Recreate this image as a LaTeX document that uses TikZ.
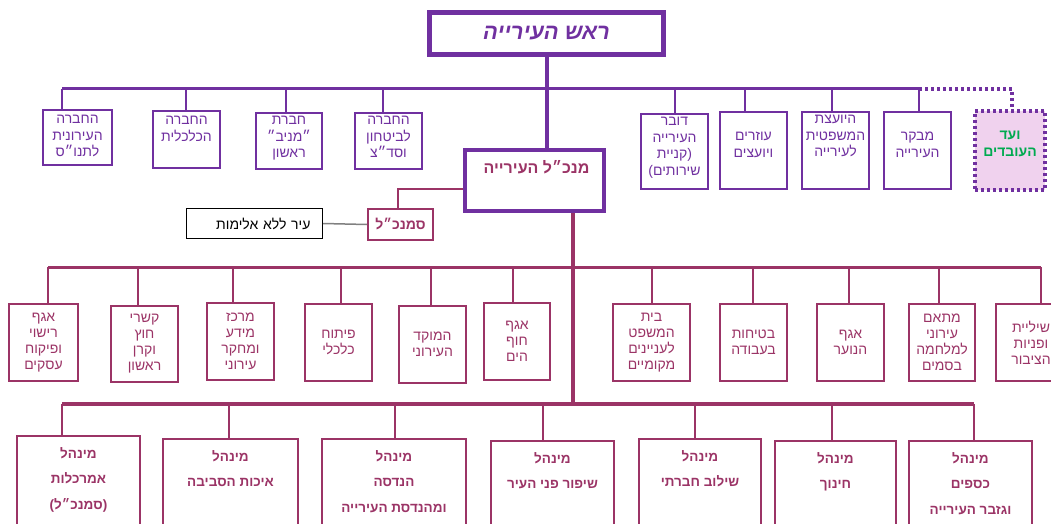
\documentclass[tikz,border=0pt]{standalone}
\usepackage{fontspec}
\newfontfamily\hebfont[Script=Hebrew]{Liberation Sans}
\TeXXeTstate=1
\usetikzlibrary{positioning}
\definecolor{mayorpurple}{RGB}{112,48,160}
\definecolor{unitred}{RGB}{155,52,102}
\definecolor{vaadgreen}{RGB}{0,170,80}
\definecolor{vaadpink}{RGB}{240,210,238}
\newcommand{\rl}[1]{\beginR #1\endR}

\tikzset{
    upbox/.style={draw=mayorpurple, line width=2pt, anchor=north west, inner sep=0pt},
    uptext/.style={font=\hebfont\fontsize{14}{16.5}\selectfont, text=mayorpurple, align=center, inner sep=0pt},
    midbox/.style={draw=unitred, line width=2pt, anchor=north west, inner sep=0pt, minimum height=77pt,
        font=\hebfont\fontsize{14}{16}\selectfont, text=unitred, align=center},
    lowbox/.style={draw=unitred, line width=2pt, anchor=north west, inner sep=0pt, minimum height=120pt},
    lowtext/.style={font=\hebfont\bfseries\fontsize{13.5}{25.5}\selectfont, text=unitred, align=center, inner sep=0pt},
    uplink/.style={draw=mayorpurple, line width=2pt},
    lowlink/.style={draw=unitred, line width=2pt},
    vaadline/.style={draw=mayorpurple, line width=4pt, dash pattern=on 3pt off 3pt}
}

\begin{document}
\begin{tikzpicture}[x=1pt, y=-1pt]
    \useasboundingbox (0,0) rectangle (1051,524);

    % mayor and the units under him
    \node[draw=mayorpurple, line width=5pt, anchor=north west, minimum width=234pt, minimum height=42pt, inner sep=0pt,
        font=\hebfont\bfseries\itshape\fontsize{22}{24}\selectfont, text=mayorpurple] (mayor) at (427,10) {\rl{ראש העירייה}};

    \node[upbox, minimum width=69pt, minimum height=55pt] (tennis) at (42,109) {};
    \node[uptext, below=6pt of tennis.north] (tennisT) {\rl{החברה}\\\rl{העירונית}\\\rl{לתנו״ס}};
    \node[upbox, minimum width=67pt, minimum height=57pt] (kalkalit) at (152,110) {};
    \node[uptext, below=6pt of kalkalit.north] (kalkalitT) {\rl{החברה}\\\rl{הכלכלית}};
    \node[upbox, minimum width=66pt, minimum height=56pt] (maniv) at (255,112) {};
    \node[uptext, below=4pt of maniv.north] (manivT) {\rl{חברת}\\\rl{״מניב״}\\\rl{ראשון}};
    \node[upbox, minimum width=67pt, minimum height=56pt] (bitachon) at (354,112) {};
    \node[uptext, below=4pt of bitachon.north] (bitachonT) {\rl{החברה}\\\rl{לביטחון}\\\rl{וסד״צ}};

    \node[upbox, minimum width=67pt, minimum height=75pt] (dover) at (640,113) {};
    \node[uptext, below=4pt of dover.north] (doverT) {\rl{דובר}\\\rl{העירייה}\\\rl{(קניית}\\\rl{שירותים)}};
    \node[upbox, minimum width=67pt, minimum height=77pt] (ozrim) at (719,111) {};
    \node[uptext, below=21pt of ozrim.north] (ozrimT) {\rl{עוזרים}\\\rl{ויועצים}};
    \node[upbox, minimum width=67pt, minimum height=77pt] (yoetzet) at (801,111) {};
    \node[uptext, below=4pt of yoetzet.north] (yoetzetT) {\rl{היועצת}\\\rl{המשפטית}\\\rl{לעירייה}};
    \node[upbox, minimum width=67pt, minimum height=77pt] (mevaker) at (883,111) {};
    \node[uptext, below=21pt of mevaker.north] (mevakerT) {\rl{מבקר}\\\rl{העירייה}};
    \node[vaadline, fill=vaadpink, anchor=north west, minimum width=70pt, minimum height=79pt, inner sep=0pt] (vaad) at (973,109) {};
    \node[uptext, font=\hebfont\bfseries\fontsize{14}{17}\selectfont, text=vaadgreen, below=22pt of vaad.north] (vaadT) {\rl{ועד}\\\rl{העובדים}};

    \coordinate (tennisUp) at (62,89);
    \coordinate (kalkalitUp) at (186,89);
    \coordinate (manivUp) at (286,89);
    \coordinate (bitachonUp) at (383,89);
    \coordinate (doverUp) at (675,89);
    \coordinate (ozrimUp) at (745,89);
    \coordinate (yoetzetUp) at (832,89);
    \coordinate (mevakerUp) at (919,89);
    \coordinate (vaadUp) at (1012,89);

    \draw[uplink, line width=3pt] (tennisUp) -- (mevakerUp);
    \foreach \u in {tennis, kalkalit, maniv, bitachon, dover, ozrim, yoetzet, mevaker}
        \draw[uplink] (\u Up) -- (\u Up |- \u.north);
    \draw[vaadline] (mevakerUp) -- (vaadUp) -- (vaadUp |- vaad.north);

    % director general
    \node[draw=mayorpurple, line width=4pt, anchor=north west, minimum width=139pt, minimum height=61pt, inner sep=0pt] (director) at (463,148) {};
    \node[below=12pt of director.north, xshift=2pt, inner sep=0pt, font=\hebfont\bfseries\fontsize{16}{18}\selectfont, text=unitred] (directorT) {\rl{מנכ״ל העירייה}};
    \draw[mayorpurple, line width=4pt] (mayor.south) -- (mayor.south |- director.north);

    \node[draw=unitred, line width=2pt, anchor=north west, minimum width=65pt, minimum height=31pt, inner sep=0pt,
        font=\hebfont\bfseries\fontsize{14}{16}\selectfont, text=unitred] (deputy) at (367,208) {\rl{סמנכ״ל}};
    \node[draw=black, line width=1pt, anchor=north west, minimum width=136pt, minimum height=30pt, inner xsep=0pt,
        text width=112pt, align=right, font=\hebfont\fontsize{14}{16}\selectfont] (violence) at (186,208) {\rl{עיר ללא אלימות}};
    \coordinate (deputyBend) at (398,189);
    \draw[lowlink] (deputyBend -| director.west) -- (deputyBend) -- (deputyBend |- deputy.north);
    \draw[gray, line width=1.5pt] (violence.east) -- (deputy.west);

    % departments
    \node[midbox, minimum width=69pt] (rishui) at (8,303) {\rl{אגף}\\\rl{רישוי}\\\rl{ופיקוח}\\\rl{עסקים}};
    \node[midbox, minimum width=67pt, minimum height=76pt] (kishrei) at (110,305) {\rl{קשרי}\\\rl{חוץ}\\\rl{וקרן}\\\rl{ראשון}};
    \node[midbox, minimum width=67pt] (merkaz) at (206,302) {\rl{מרכז}\\\rl{מידע}\\\rl{ומחקר}\\\rl{עירוני}};
    \node[midbox, minimum width=67pt] (pituach) at (304,303) {\rl{פיתוח}\\\rl{כלכלי}};
    \node[midbox, minimum width=67pt] (moked) at (398,305) {\rl{המוקד}\\\rl{העירוני}};
    \node[midbox, minimum width=66pt] (chof) at (483,302) {\rl{אגף}\\\rl{חוף}\\\rl{הים}};
    \node[midbox, minimum width=77pt] (mishpat) at (612,303) {\rl{בית}\\\rl{המשפט}\\\rl{לעניינים}\\\rl{מקומיים}};
    \node[midbox, minimum width=67pt] (betichut) at (719,303) {\rl{בטיחות}\\\rl{בעבודה}};
    \node[midbox, minimum width=67pt] (noar) at (816,303) {\rl{אגף}\\\rl{הנוער}};
    \node[midbox, minimum width=66pt] (metaem) at (908,303) {\rl{מתאם}\\\rl{עירוני}\\\rl{למלחמה}\\\rl{בסמים}};
    \node[midbox, minimum width=70pt] (tzibur) at (995,303) {\rl{שיליית}\\\rl{ופניות}\\\rl{הציבור}};

    \coordinate (rishuiUp) at (48,267);
    \coordinate (kishreiUp) at (138,267);
    \coordinate (merkazUp) at (233,267);
    \coordinate (pituachUp) at (341,267);
    \coordinate (mokedUp) at (431,267);
    \coordinate (chofUp) at (513,267);
    \coordinate (mishpatUp) at (652,267);
    \coordinate (betichutUp) at (753,267);
    \coordinate (noarUp) at (849,267);
    \coordinate (metaemUp) at (939,267);
    \coordinate (tziburUp) at (1041,267);

    \draw[lowlink, line width=3pt] (rishuiUp) -- (tziburUp);
    \foreach \u in {rishui, kishrei, merkaz, pituach, moked, chof, mishpat, betichut, noar, metaem, tzibur}
        \draw[lowlink] (\u Up) -- (\u Up |- \u.north);

    % administrations
    \node[lowbox, minimum width=123pt] (amarchalut) at (16,435) {};
    \node[lowtext, below=12pt of amarchalut.north] (amarchalutT) {\rl{מינהל}\\\rl{אמרכלות}\\\rl{(סמנכ״ל)}};
    \node[lowbox, minimum width=135pt] (sviva) at (162,438) {};
    \node[lowtext, below=12pt of sviva.north] (svivaT) {\rl{מינהל}\\\rl{איכות הסביבה}};
    \node[lowbox, minimum width=144pt] (handasa) at (321,438) {};
    \node[lowtext, below=12pt of handasa.north] (handasaT) {\rl{מינהל}\\\rl{הנדסה}\\\rl{ומהנדסת העירייה}};
    \node[lowbox, minimum width=123pt] (shipur) at (490,440) {};
    \node[lowtext, below=12pt of shipur.north] (shipurT) {\rl{מינהל}\\\rl{שיפור פני העיר}};
    \node[lowbox, minimum width=122pt] (shiluv) at (638,438) {};
    \node[lowtext, below=12pt of shiluv.north] (shiluvT) {\rl{מינהל}\\\rl{שילוב חברתי}};
    \node[lowbox, minimum width=121pt] (chinuch) at (774,440) {};
    \node[lowtext, below=12pt of chinuch.north] (chinuchT) {\rl{מינהל}\\\rl{חינוך}};
    \node[lowbox, minimum width=123pt] (ksafim) at (908,440) {};
    \node[lowtext, below=12pt of ksafim.north] (ksafimT) {\rl{מינהל}\\\rl{כספים}\\\rl{וגזבר העירייה}};

    \coordinate (amarchalutUp) at (62,404);
    \coordinate (svivaUp) at (229,404);
    \coordinate (handasaUp) at (395,404);
    \coordinate (shipurUp) at (543,404);
    \coordinate (shiluvUp) at (695,404);
    \coordinate (chinuchUp) at (832,404);
    \coordinate (ksafimUp) at (974,404);

    \draw[lowlink, line width=4pt] (amarchalutUp) -- (ksafimUp);
    \foreach \u in {amarchalut, sviva, handasa, shipur, shiluv, chinuch, ksafim}
        \draw[lowlink] (\u Up) -- (\u Up |- \u.north);

    \coordinate (spineLow) at (573,404);
    \draw[lowlink, line width=4pt] (spineLow |- director.south) -- (spineLow);

\end{tikzpicture}
\end{document}
